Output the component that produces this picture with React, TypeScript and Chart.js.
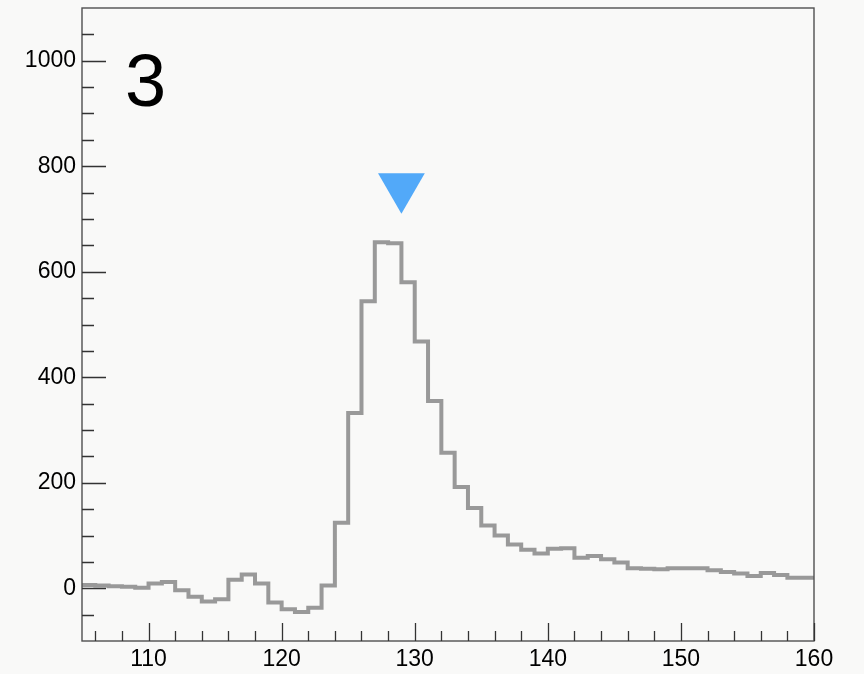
import React, { useEffect, useRef } from "react";
import { Chart, registerables } from "chart.js";

Chart.register(...registerables);

// Histogram bins (lower edge of each 1-unit bin) and their contents
const binLowEdges = [
  105, 106, 107, 108, 109, 110, 111, 112, 113, 114,
  115, 116, 117, 118, 119, 120, 121, 122, 123, 124,
  125, 126, 127, 128, 129, 130, 131, 132, 133, 134,
  135, 136, 137, 138, 139, 140, 141, 142, 143, 144,
  145, 146, 147, 148, 149, 150, 151, 152, 153, 154,
  155, 156, 157, 158, 159,
];
const binCounts = [
  6, 6, 5, 4, 3, 1, 9, 12, -4, -16,
  -25, -21, 16, 26, 9, -27, -40, -45, -37, 5,
  124, 332, 544, 656, 654, 580, 468, 355, 257, 192,
  152, 119, 100, 83, 73, 66, 75, 76, 58, 61,
  55, 49, 38, 37, 36, 38, 38, 38, 34, 31,
  28, 23, 29, 25, 20,
];
const binWidth = 1;

// Axis ranges and labelled ticks
const xRange = [105, 160];
const yRange = [-100, 1100];
const xLabelTicks = [110, 120, 130, 140, 150, 160];
const yLabelTicks = [0, 200, 400, 600, 800, 1000];
const xMinorStep = 2;
const yMinorStep = 50;

// Peak marker and panel label
const peakMarker = [{ x: 129, y: 761 }];
const panelLabel = "3";

const BG = "#f9f9f8";
const FONT = "'Liberation Sans', Arial, Helvetica, sans-serif";

const backgroundPlugin = {
  id: "pageBackground",
  beforeDraw(chart: any) {
    const { ctx, width, height } = chart;
    ctx.save();
    ctx.fillStyle = BG;
    ctx.fillRect(0, 0, width, height);
    ctx.restore();
  },
};

// Frame with inward-pointing tick marks, plus the panel number
const framePlugin = {
  id: "frameTicks",
  afterDraw(chart: any) {
    const { ctx, chartArea } = chart;
    const { left, right, top, bottom } = chartArea;
    const xs = chart.scales.x;
    const ys = chart.scales.y;
    ctx.save();
    ctx.strokeStyle = "#505050";
    ctx.lineWidth = 1.4;
    ctx.strokeRect(left, top, right - left, bottom - top);

    ctx.strokeStyle = "#333333";
    ctx.lineWidth = 1.3;
    ctx.beginPath();
    for (let v = xRange[0] + 1; v <= xRange[1]; v += xMinorStep) {
      const major = xLabelTicks.includes(v);
      const px = Math.round(xs.getPixelForValue(v)) + 0.5;
      ctx.moveTo(px, bottom);
      ctx.lineTo(px, bottom - (major ? 18 : 10));
    }
    for (let v = yRange[0] + yMinorStep; v < yRange[1]; v += yMinorStep) {
      const major = yLabelTicks.includes(v);
      const py = Math.round(ys.getPixelForValue(v)) + 0.5;
      ctx.moveTo(left, py);
      ctx.lineTo(left + (major ? 24 : 12), py);
    }
    ctx.stroke();

    ctx.fillStyle = "#000000";
    ctx.font = `74px ${FONT}`;
    ctx.textAlign = "left";
    ctx.textBaseline = "alphabetic";
    ctx.fillText(panelLabel, 125, 106);
    ctx.restore();
  },
};

export default function App() {
  const canvasRef = useRef<HTMLCanvasElement | null>(null);

  useEffect(() => {
    if (!canvasRef.current) return;

    const stepPoints = binLowEdges.map((x, i) => ({ x, y: binCounts[i] }));
    const last = binLowEdges.length - 1;
    stepPoints.push({ x: binLowEdges[last] + binWidth, y: binCounts[last] });

    const chart = new Chart(canvasRef.current, {
      type: "line",
      data: {
        datasets: [
          {
            data: stepPoints,
            stepped: "after",
            borderColor: "#999999",
            borderWidth: 4,
            pointRadius: 0,
            fill: false,
            borderJoinStyle: "miter",
          },
          {
            type: "scatter",
            data: peakMarker,
            pointStyle: "triangle",
            rotation: 180,
            pointRadius: 27,
            backgroundColor: "#52a9f9",
            borderColor: "#52a9f9",
            borderWidth: 0,
          } as any,
        ],
      },
      options: {
        responsive: false,
        animation: false,
        devicePixelRatio: 1,
        layout: { autoPadding: false, padding: { left: 0, right: 50, top: 8, bottom: 0 } },
        plugins: {
          legend: { display: false },
          tooltip: { enabled: false },
        },
        scales: {
          x: {
            type: "linear",
            min: xRange[0],
            max: xRange[1],
            grid: { display: false, drawTicks: false },
            border: { display: false },
            afterBuildTicks: (s: any) => {
              s.ticks = xLabelTicks.map((value) => ({ value }));
            },
            afterFit: (s: any) => {
              s.height = 33;
              s.paddingLeft = 0;
              s.paddingRight = 0;
            },
            ticks: {
              autoSkip: false,
              maxRotation: 0,
              padding: 5,
              color: "#000000",
              font: { family: FONT, size: 23 },
              callback: (v: any) => String(v),
            },
          },
          y: {
            type: "linear",
            min: yRange[0],
            max: yRange[1],
            grid: { display: false, drawTicks: false },
            border: { display: false },
            afterBuildTicks: (s: any) => {
              s.ticks = yLabelTicks.map((value) => ({ value }));
            },
            afterFit: (s: any) => {
              s.width = 82;
              s.paddingTop = 0;
              s.paddingBottom = 0;
            },
            ticks: {
              autoSkip: false,
              padding: 6,
              color: "#000000",
              font: { family: FONT, size: 23 },
              callback: (v: any) => String(v),
            },
          },
        },
      },
      plugins: [backgroundPlugin, framePlugin],
    });

    return () => chart.destroy();
  }, []);

  return (
    <div style={{ position: "absolute", left: 0, top: 0, width: 864, height: 674 }}>
      <canvas ref={canvasRef} width={864} height={674} />
    </div>
  );
}
